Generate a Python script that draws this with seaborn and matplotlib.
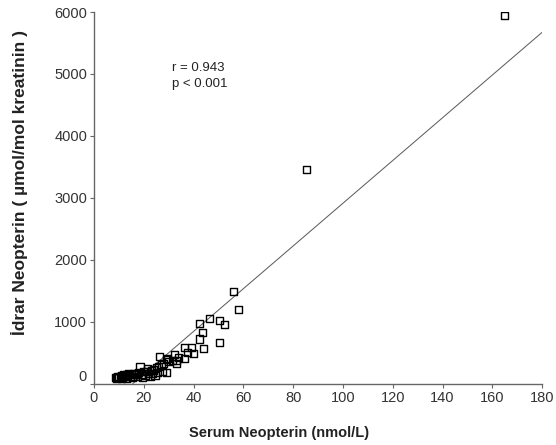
import numpy as np
import pandas as pd
import matplotlib
matplotlib.use("Agg")
import matplotlib.pyplot as plt
import matplotlib.transforms as mtransforms
import seaborn as sns

# ---- data ----
serum = [8.5, 9, 9.5, 10, 10.5, 11, 11, 11.5, 12, 12.5, 13, 13, 13.5, 14, 14.5,
         15, 15.5, 16, 16.5, 17, 17.5, 18, 18.5, 19, 19.5, 20, 20.5, 21, 21.5,
         22, 22.5, 23, 23.5, 24, 24.5, 25, 25.5, 26, 26.5, 27, 27.5, 28, 29,
         29, 29.5, 30, 31.5, 32.5, 33, 33, 34, 36.5, 36.5, 37.5, 39, 40,
         42.5, 42.5, 43.5, 44, 46.5, 50.5, 50.5, 52.5, 56, 58, 85.5, 165]
idrar = [100, 90, 110, 95, 120, 80, 130, 100, 140, 110, 150, 90, 130, 160, 120,
         150, 100, 160, 140, 170, 120, 180, 270, 150, 100, 200, 130, 190, 250,
         160, 110, 210, 165, 220, 130, 260, 180, 270, 440, 300, 200, 330, 175,
         390, 400, 350, 380, 475, 330, 380, 420, 580, 410, 500, 580, 490,
         970, 720, 820, 560, 1050, 1015, 660, 960, 1490, 1190, 3460, 5950]

fit_slope = 34.5
fit_intercept = -538.0
fit_x_end = 180.0

x_ticks = [0, 20, 40, 60, 80, 100, 120, 140, 160, 180]
y_ticks = [0, 1000, 2000, 3000, 4000, 5000, 6000]

x_label = "Serum Neopterin (nmol/L)"
y_label = "İdrar Neopterin ( µmol/mol kreatinin )"
stat_lines = ["r = 0.943", "p < 0.001"]

# ---- plotting ----
sns.set_style("white")
plt.rcParams['font.family'] = ['Liberation Sans', 'DejaVu Sans']

fig = plt.figure(figsize=(5.56, 4.45), dpi=100)
ax = fig.add_axes([0.169, 0.138, 0.806, 0.835])

df = pd.DataFrame({"serum": serum, "idrar": idrar})
sns.scatterplot(data=df, x="serum", y="idrar", ax=ax, marker="s", s=26,
                facecolor="none", edgecolor="black", linewidth=1.0, zorder=3)

x0 = -fit_intercept / fit_slope
line_df = pd.DataFrame({"x": [x0, fit_x_end]})
line_df["y"] = fit_slope * line_df["x"] + fit_intercept
sns.lineplot(data=line_df, x="x", y="y", ax=ax, color="#606060", linewidth=0.75, zorder=2)

ax.set_xlim(0, 180)
ax.set_ylim(0, 6000)
ax.set_xticks(x_ticks)
ax.set_yticks(y_ticks)
ax.set_xlabel("")
ax.set_ylabel("")

for s in ["top", "right"]:
    ax.spines[s].set_visible(False)
for s in ["left", "bottom"]:
    ax.spines[s].set_color("#666666")
    ax.spines[s].set_linewidth(1.0)

ax.tick_params(axis="both", which="major", direction="out", length=3, width=0.8,
               color="#666666", labelsize=10.5, labelcolor="#333333", pad=2,
               bottom=True, left=True)

# the zero label on the y axis sits a little above the axis line
zero_lbl = ax.get_yticklabels()[0]
zero_lbl.set_transform(zero_lbl.get_transform() +
                       mtransforms.ScaledTranslation(0, 6 / 72, fig.dpi_scale_trans))

fig.text(0.502, 0.027, x_label, ha="center", va="center", fontsize=10.5,
         fontweight="bold", color="#222222")
fig.text(0.035, 0.589, y_label, ha="center", va="center", rotation=90,
         fontsize=12.5, fontweight="bold", color="#222222")

ax.text(31.3, 5097, stat_lines[0], fontsize=9.5, color="#222222", va="center", ha="left")
ax.text(31.3, 4838, stat_lines[1], fontsize=9.5, color="#222222", va="center", ha="left")

fig.savefig("out.png", dpi=100)
